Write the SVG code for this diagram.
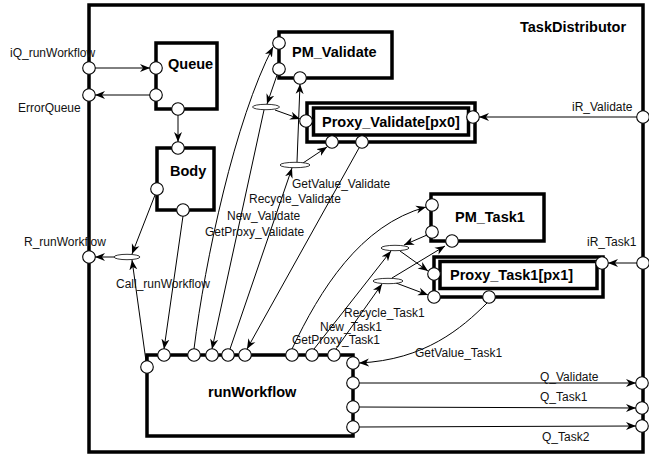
<svg xmlns="http://www.w3.org/2000/svg" width="649" height="456" viewBox="0 0 649 456">
<style>
.box{fill:#fff;stroke:#000;stroke-width:3.5}
.port{fill:#fff;stroke:#000;stroke-width:1.1}
.ell{fill:#fff;stroke:#000;stroke-width:0.8}
.c{fill:none;stroke:#000;stroke-width:1;marker-end:url(#ah)}
.t{font-family:"Liberation Sans",Arial,sans-serif;font-size:12px;fill:#111}
.b{font-family:"Liberation Sans",Arial,sans-serif;font-size:14.5px;font-weight:bold;fill:#000}
</style>
<defs>
<marker id="ah" markerUnits="userSpaceOnUse" markerWidth="11" markerHeight="9" refX="10" refY="4.5" orient="auto">
<path d="M0,0.5 L10,4.5 L0,8.5 L3,4.5 z" fill="#000"/>
</marker>
</defs>
<rect width="649" height="456" fill="#fff"/>

<g id="TaskDistributor">
<rect x="89" y="5" width="554" height="447" fill="none" stroke="#000" stroke-width="3.5"/>
<text class="b" x="520" y="32">TaskDistributor</text>
</g>

<g id="Queue">
<rect class="box" x="156" y="43" width="61" height="66"/>
<text class="b" x="168" y="69">Queue</text>
</g>
<g id="Body">
<rect class="box" x="157" y="148" width="57" height="62"/>
<text class="b" x="170" y="176">Body</text>
</g>
<g id="PM_Validate">
<rect class="box" x="279" y="32" width="113" height="46"/>
<text class="b" x="292" y="57">PM_Validate</text>
</g>
<g id="Proxy_Validate">
<rect class="box" x="307" y="103" width="168" height="39"/>
<rect class="box" x="313.5" y="108" width="155" height="27"/>
<text class="b" x="322" y="127">Proxy_Validate[px0]</text>
</g>
<g id="PM_Task1">
<rect class="box" x="431" y="194" width="113" height="47"/>
<text class="b" x="455" y="222">PM_Task1</text>
</g>
<g id="Proxy_Task1">
<rect class="box" x="434" y="257" width="169" height="40"/>
<rect class="box" x="440" y="261.5" width="157" height="27"/>
<text class="b" x="450" y="280">Proxy_Task1[px1]</text>
</g>
<g id="runWorkflow">
<rect class="box" x="147" y="355" width="206" height="81"/>
<text class="b" x="208" y="397">runWorkflow</text>
</g>

<g id="connectors">
<path class="c" d="M95,68 L150,68"/>
<path class="c" d="M150,95 L95,95"/>
<path class="c" d="M178,115 L178,142"/>
<path class="c" d="M155,195 L132,254"/>
<path class="c" d="M114,257 L95,257"/>
<path class="c" d="M146,361 L132,260"/>
<path class="c" d="M183,216 L164,349"/>
<path class="c" d="M194,349 C205,260 235,120 273,47"/>
<path class="c" d="M277,75 L267,104"/>
<path class="c" d="M275,110 L300,119"/>
<path class="c" d="M264,110 L212,349"/>
<path class="c" d="M230,349 L292,168"/>
<path class="c" d="M297,162 L300,84"/>
<path class="c" d="M303,163 L327,147"/>
<path class="c" d="M359,148 L247,349"/>
<path class="c" d="M637,117 L479,117"/>
<path class="c" d="M292,349 C320,290 360,225 426,207"/>
<path class="c" d="M427,235 L404,245"/>
<path class="c" d="M400,251 L428,271"/>
<path class="c" d="M314,349 L391,251"/>
<path class="c" d="M336,349 L382,284"/>
<path class="c" d="M396,283 L428,295"/>
<path class="c" d="M392,278 L445,246"/>
<path class="c" d="M487,303 C462,328 425,360 359,363"/>
<path class="c" d="M637,263 L608,263"/>
<path class="c" d="M359,383 L636,383"/>
<path class="c" d="M359,407 L636,408"/>
<path class="c" d="M359,427 L636,426"/>
<ellipse class="ell" cx="127" cy="257" rx="13" ry="2.7"/>
<ellipse class="ell" cx="266" cy="107" rx="13.5" ry="2.7"/>
<ellipse class="ell" cx="295" cy="165" rx="15" ry="2.7"/>
<ellipse class="ell" cx="395" cy="248" rx="14" ry="2.7"/>
<ellipse class="ell" cx="388" cy="281" rx="15" ry="2.7"/>
</g>

<g id="ports">
<circle class="port" cx="89" cy="68" r="6.3"/>
<circle class="port" cx="89" cy="95" r="6.3"/>
<circle class="port" cx="89" cy="257" r="6.3"/>
<circle class="port" cx="643" cy="117" r="6.3"/>
<circle class="port" cx="643" cy="263" r="6.3"/>
<circle class="port" cx="642" cy="383" r="6.3"/>
<circle class="port" cx="642" cy="408" r="6.3"/>
<circle class="port" cx="642" cy="426" r="6.3"/>
<circle class="port" cx="156" cy="68" r="6.3"/>
<circle class="port" cx="156" cy="95" r="6.3"/>
<circle class="port" cx="178" cy="109" r="6.3"/>
<circle class="port" cx="178" cy="148" r="6.3"/>
<circle class="port" cx="157" cy="189" r="6.3"/>
<circle class="port" cx="183" cy="210" r="6.3"/>
<circle class="port" cx="279" cy="43" r="6.3"/>
<circle class="port" cx="279" cy="69" r="6.3"/>
<circle class="port" cx="300" cy="78" r="6.3"/>
<circle class="port" cx="306" cy="121" r="6.3"/>
<circle class="port" cx="332" cy="142" r="6.3"/>
<circle class="port" cx="362" cy="142" r="6.3"/>
<circle class="port" cx="473" cy="117" r="6.3"/>
<circle class="port" cx="432" cy="205" r="6.3"/>
<circle class="port" cx="432" cy="232" r="6.3"/>
<circle class="port" cx="452" cy="241" r="6.3"/>
<circle class="port" cx="434" cy="274" r="6.3"/>
<circle class="port" cx="434" cy="297" r="6.3"/>
<circle class="port" cx="489" cy="297" r="6.3"/>
<circle class="port" cx="602" cy="263" r="6.3"/>
<circle class="port" cx="147" cy="367" r="6.3"/>
<circle class="port" cx="164" cy="355" r="6.3"/>
<circle class="port" cx="194" cy="355" r="6.3"/>
<circle class="port" cx="212" cy="355" r="6.3"/>
<circle class="port" cx="228" cy="355" r="6.3"/>
<circle class="port" cx="245" cy="355" r="6.3"/>
<circle class="port" cx="292" cy="355" r="6.3"/>
<circle class="port" cx="312" cy="355" r="6.3"/>
<circle class="port" cx="334" cy="355" r="6.3"/>
<circle class="port" cx="353" cy="363" r="6.3"/>
<circle class="port" cx="353" cy="383" r="6.3"/>
<circle class="port" cx="353" cy="407" r="6.3"/>
<circle class="port" cx="353" cy="427" r="6.3"/>
</g>

<g id="labels">
<text class="t" x="10" y="57">iQ_runWorkflow</text>
<text class="t" x="18" y="112">ErrorQueue</text>
<text class="t" x="24" y="246">R_runWorkflow</text>
<text class="t" x="116" y="288">Call_runWorkflow</text>
<text class="t" x="292" y="188">GetValue_Validate</text>
<text class="t" x="249" y="203">Recycle_Validate</text>
<text class="t" x="227" y="220">New_Validate</text>
<text class="t" x="205" y="236">GetProxy_Validate</text>
<text class="t" x="344" y="317">Recycle_Task1</text>
<text class="t" x="320" y="331">New_Task1</text>
<text class="t" x="292" y="344">GetProxy_Task1</text>
<text class="t" x="415" y="357">GetValue_Task1</text>
<text class="t" x="540" y="381">Q_Validate</text>
<text class="t" x="540" y="401">Q_Task1</text>
<text class="t" x="542" y="441">Q_Task2</text>
<text class="t" x="572" y="111">iR_Validate</text>
<text class="t" x="587" y="246">iR_Task1</text>
</g>
</svg>
